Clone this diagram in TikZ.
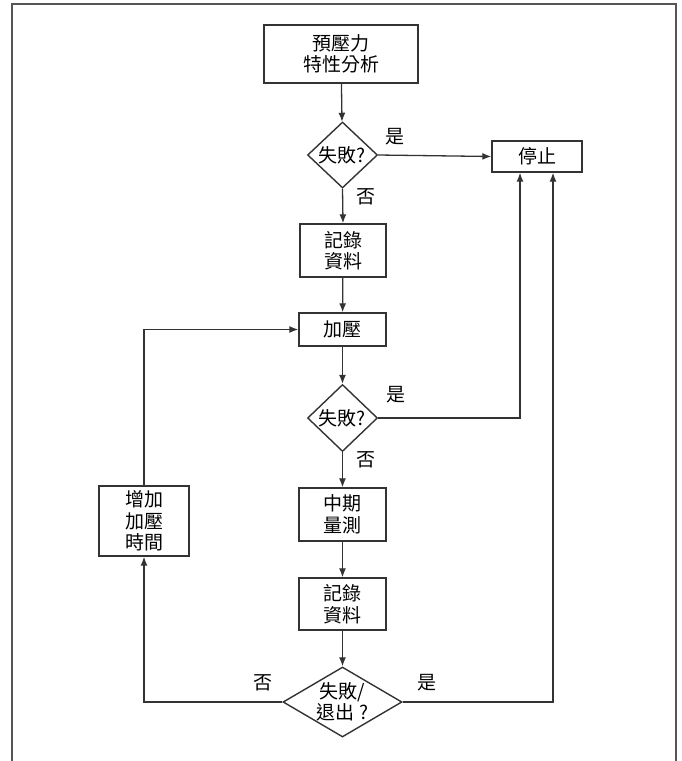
\documentclass[tikz,border=0pt]{standalone}
\usepackage{fontspec}
\newfontfamily\cjk{Noto Sans CJK TC}
\usetikzlibrary{shapes.geometric,arrows.meta,calc}
\definecolor{ln}{HTML}{333333}
\definecolor{frm}{HTML}{555555}
\tikzset{
  txt/.style={font=\cjk\fontsize{19}{21.5}\selectfont, text=black},
  box/.style={draw=ln, line width=1.4pt, rectangle, inner sep=0pt, align=center, txt},
  dia/.style={draw=ln, line width=1.4pt, diamond, inner sep=0pt},
  conn/.style={draw=ln, line width=1.3pt},
  arr/.style={conn, -{Latex[length=9pt,width=7pt]}},
  lbl/.style={txt, inner sep=0pt}
}
\begin{document}
\begin{tikzpicture}[x=1pt,y=-1pt]
\useasboundingbox (0,0) rectangle (681,761);
% frame
\draw[frm, line width=1.5pt] (12,761) -- (12,4) -- (676,4) -- (676,761);

\node[box, minimum width=154pt, minimum height=58pt] (pre) at (341,54) {預壓力\\特性分析};
\node[dia, minimum width=70pt, minimum height=66pt] (d1) at (342.5,155) {};
\node[lbl] (d1t) at (342.5,155) {失敗?};
\node[box, minimum width=90pt, minimum height=31pt] (stop) at (537,156.5) {停止};
\node[box, minimum width=86pt, minimum height=53pt] (rec1) at (343,250.5) {記錄\\資料};
\node[box, minimum width=87pt, minimum height=33pt] (press) at (342.5,329.5) {加壓};
\node[dia, minimum width=70pt, minimum height=67pt] (d2) at (342.5,418) {};
\node[lbl] (d2t) at (342.5,418) {失敗?};
\node[box, minimum width=87pt, minimum height=53pt] (mid) at (342.5,514.5) {中期\\量測};
\node[box, minimum width=87pt, minimum height=52pt] (rec2) at (342.5,604) {記錄\\資料};
\node[box, minimum width=90pt, minimum height=70pt] (inc) at (144,521) {增加\\加壓\\時間};
\node[dia, minimum width=119pt, minimum height=70pt] (d3) at (342.5,702) {};
\node[lbl, align=center] (d3t) at (342.5,702) {失敗/\\退出 ?};

\coordinate (s1) at ([xshift=-17pt]stop.south);
\coordinate (s2) at ([xshift=16pt]stop.south);

\draw[arr] (pre) -- (d1);
\draw[arr] (d1.east) -- (stop.west);
\draw[arr] (d1.south) -- (rec1.north);
\draw[arr] (rec1) -- (press);
\draw[arr] (press) -- (d2.north);
\draw[arr] (d2.east) -| (s1);
\draw[arr] (d2.south) -- (mid.north);
\draw[arr] (mid) -- (rec2);
\draw[arr] (rec2.south) -- (d3.north);
\draw[arr] (d3.east) -| (s2);
\draw[arr] (d3.west) -| (inc.south);
\draw[arr] (inc.north) |- (press.west);

\node[lbl] (y1) at (395,137) {是};
\node[lbl] (n1) at (366,197) {否};
\node[lbl] (y2) at (396,395) {是};
\node[lbl] (n2) at (366,460) {否};
\node[lbl] (y3) at (427,683) {是};
\node[lbl] (n3) at (263,683) {否};
\end{tikzpicture}
\end{document}
